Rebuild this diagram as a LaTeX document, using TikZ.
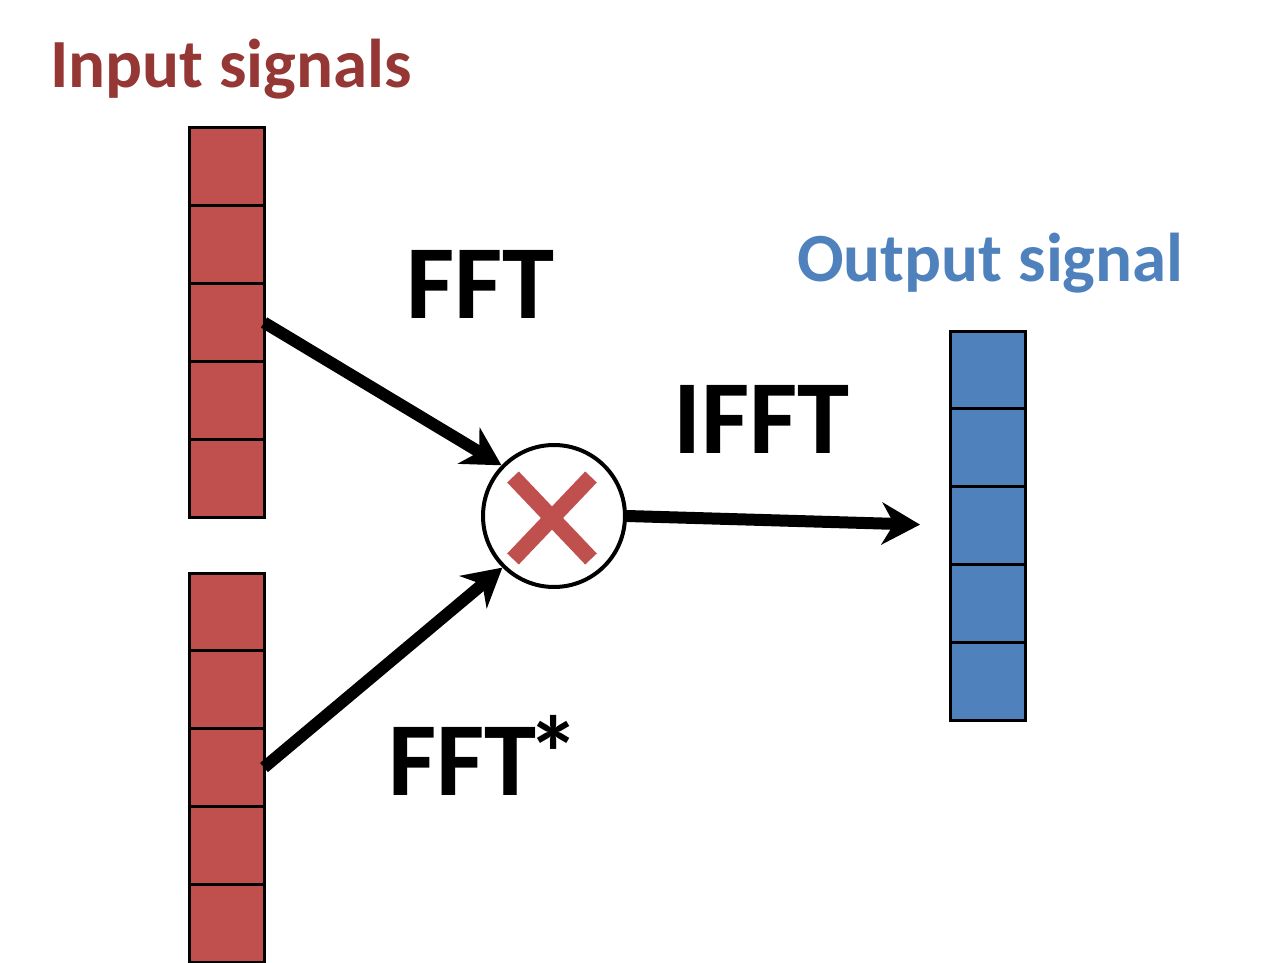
\documentclass[tikz,border=0pt]{standalone}
\usepackage{fontspec}
\setmainfont{Carlito}
\usetikzlibrary{arrows.meta,calc}
\definecolor{cellred}{HTML}{C0504D}
\definecolor{cellblue}{HTML}{4F81BD}
\definecolor{titlered}{HTML}{953735}
\definecolor{titleblue}{HTML}{4F81BD}
\tikzset{
  redcell/.style={draw=black,line width=3pt,fill=cellred,minimum width=75pt,minimum height=77.8pt,inner sep=0pt,outer sep=0pt},
  bluecell/.style={draw=black,line width=3pt,fill=cellblue,minimum width=75pt,minimum height=77.8pt,inner sep=0pt,outer sep=0pt},
  bigarrow/.style={line width=12pt,-{Stealth[length=38pt,width=42pt,inset=12pt]}},
  label/.style={font=\bfseries\fontsize{105}{110}\selectfont,anchor=base west,inner sep=0pt},
  heading/.style={font=\bfseries\fontsize{69}{74}\selectfont,anchor=base west,inner sep=0pt}
}
\begin{document}
\begin{tikzpicture}[x=1pt,y=-1pt]
\useasboundingbox (0,0) rectangle (1264,963);
% input column 1
\foreach \i in {1,...,5}{
  \node[redcell] (a\i) at (226.5,{128+(\i-0.5)*77.8}) {};
}
% input column 2
\foreach \i in {1,...,5}{
  \node[redcell] (b\i) at (226.5,{573+(\i-0.5)*77.8}) {};
}
% output column
\foreach \i in {1,...,5}{
  \node[bluecell] (c\i) at (987.5,{331+(\i-0.5)*77.8}) {};
}
% multiply circle
\node[circle,draw=black,line width=4pt,fill=white,minimum size=142pt,inner sep=0pt] (mul) at (554,516) {};
\draw[cellred,line width=16pt] ($(mul)+(-41,-39)$) -- ($(mul)+(37,43)$);
\draw[cellred,line width=16pt] ($(mul)+(37,-39)$) -- ($(mul)+(-41,43)$);
% arrows
\draw[bigarrow] (a3.east) -- (mul.136);
\draw[bigarrow] (b3.east) -- (mul.225);
\draw[bigarrow,shorten >=30pt] (mul.east) -- (c3.west);
% texts
\node[heading,text=titlered] (tin) at (50,88) {Input signals};
\node[heading,text=titleblue] (tout) at (797,281) {Output signal};
\node[label] (fft) at (406,318) {FFT};
\node[label] (ifft) at (673,453) {IFFT};
\node[label] (fftc) at (388,795) {FFT\kern-9pt\raisebox{5pt}{*}};
\end{tikzpicture}
\end{document}
